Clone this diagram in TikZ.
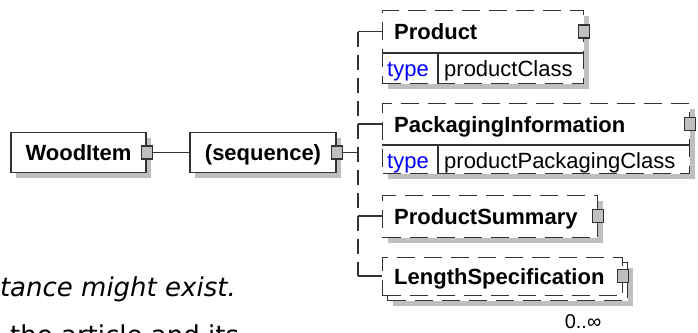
\documentclass[tikz,border=0pt]{standalone}
\usepackage{fontspec}
\setmainfont{Liberation Sans}
\newfontfamily\textofont{DejaVu Sans}
\usetikzlibrary{shadows}

\begin{document}
\begin{tikzpicture}[x=1pt,y=-1pt]
%----------estilos---------
\tikzset{caja/.style={
rectangle,
draw=black!80,
line width=1.3pt,
fill=white,
inner sep=0pt},
sombra/.style={drop shadow={shadow xshift=5pt,shadow yshift=-5pt,fill=black!25,opacity=1}},
opcional/.style={caja,dash pattern=on 18pt off 9pt},
nombre/.style={font=\bfseries\fontsize{22}{22}\selectfont,text height=16pt,text depth=0pt,inner sep=0pt},
tipo/.style={font=\fontsize{22}{22}\selectfont,text height=16pt,text depth=0pt,inner sep=0pt},
enchufe/.style={rectangle,draw=black!80,line width=1.3pt,fill=black!25,minimum width=11pt,minimum height=13pt,inner sep=0pt},
cable/.style={draw=black!80,line width=1.3pt}};

\useasboundingbox (0,0) rectangle (698,332);
\clip (0,0) rectangle (698,332);

%------------ elementos ---------------
\node [caja,sombra,nombre,minimum width=135pt,minimum height=40pt] (wood) at (78.5,152.5) {WoodItem};
\node [caja,sombra,nombre,minimum width=146pt,minimum height=40pt] (seq) at (263,152.5) {(sequence)};

% Product
\node [opcional,sombra,anchor=north west,minimum width=201pt,minimum height=73pt] (prod) at (382,10) {};
\node [nombre,anchor=west] (prodN) at (394,31.5) {Product};
\draw [cable] (382,53)--(583,53);
\draw [cable] (438,53)--(438,83);
\node [tipo,text=blue,anchor=base west] (prodT) at (387,76) {type};
\node [tipo,anchor=base west] (prodC) at (444,76) {productClass};

% PackagingInformation
\node [opcional,sombra,anchor=north west,minimum width=307pt,minimum height=70pt] (pack) at (382,103) {};
\node [nombre,anchor=west] (packN) at (394,124) {PackagingInformation};
\draw [cable] (382,145)--(689,145);
\draw [cable] (438,145)--(438,173);
\node [tipo,text=blue,anchor=base west] (packT) at (387,168) {type};
\node [tipo,anchor=base west] (packC) at (444,168) {productPackagingClass};

% ProductSummary
\node [opcional,sombra,anchor=north west,minimum width=215pt,minimum height=42pt] (summ) at (382,195) {};
\node [nombre,anchor=west] (summN) at (394,216) {ProductSummary};

% LengthSpecification (varias)
\node [opcional,sombra,anchor=north west,minimum width=240pt,minimum height=38pt] (lenB) at (387,262) {};
\node [opcional,anchor=north west,minimum width=240pt,minimum height=38pt] (len) at (382,257) {};
\node [nombre,anchor=west] (lenN) at (394,276) {LengthSpecification};
\node [font=\fontsize{20}{20}\selectfont,anchor=base,inner sep=0pt] (lenM) at (583,328) {0..∞};

%------------ enchufes ---------------
\node [enchufe] (woodP) at (wood.east) {};
\node [enchufe] (seqP) at (seq.east) {};
\node [enchufe] (prodP) at (prod.east |- prodN.west) {};
\node [enchufe] (packP) at (pack.east |- packN.west) {};
\node [enchufe] (summP) at (summ.east |- summN.west) {};
\node [enchufe] (lenP) at (len.east |- lenN.west) {};

%------------ cables ---------------
\coordinate (rama) at (358,152.5);
\draw [cable] (woodP)--(seq);
\draw [cable] (seqP)--(rama);
\draw [cable,dash pattern=on 15pt off 8pt] (rama |- prodN.west)--(rama |- lenN.west);
\foreach \el/\nm in {prod/prodN,pack/packN,summ/summN,len/lenN}
  \draw [cable] (rama |- \nm.west)--(\el.west |- \nm.west);

% texto del articulo
\node [font=\textofont\itshape\fontsize{26}{26}\selectfont,anchor=base east,inner sep=0pt] (nota) at (236,296) {tance might exist.};
\node [font=\textofont\fontsize{26}{26}\selectfont,anchor=base west,inner sep=0pt] (nota2) at (10,344) {the article and its};
\end{tikzpicture}
\end{document}
